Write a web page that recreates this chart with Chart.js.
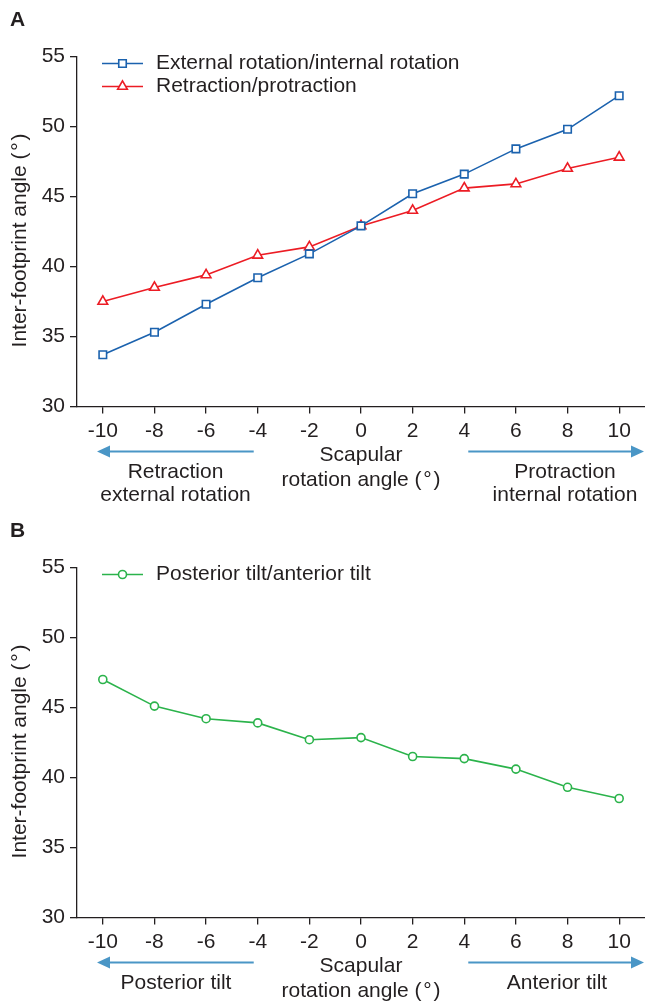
<!DOCTYPE html>
<html>
<head>
<meta charset="utf-8">
<script src="https://cdn.jsdelivr.net/npm/chart.js@4.4.1/dist/chart.umd.min.js"></script>
<style>
  html, body { margin: 0; padding: 0; background: #fff; }
  #wrap { position: relative; width: 645px; height: 1007px; }
  .panel { position: absolute; left: 0; width: 645px; }
  #panel-a { top: 0; height: 511px; }
  #panel-b { top: 511px; height: 496px; }
</style>
</head>
<body>
<div id="wrap">
  <div class="panel" id="panel-a"><canvas id="chart-a"></canvas></div>
  <div class="panel" id="panel-b"><canvas id="chart-b"></canvas></div>
</div>
<script>
// scapular rotation angle (deg)
const xLabels = ["-10", "-8", "-6", "-4", "-2", "0", "2", "4", "6", "8", "10"];
const yTickValues = [30, 35, 40, 45, 50, 55];

// inter-footprint angle (deg)
const extIntRotation = [33.7, 35.3, 37.3, 39.2, 40.9, 42.9, 45.2, 46.6, 48.4, 49.8, 52.2];
const retractProtract = [37.5, 38.5, 39.4, 40.8, 41.4, 42.9, 44.0, 45.6, 45.9, 47.0, 47.8];
const postAntTilt = [47.0, 45.1, 44.2, 43.9, 42.7, 42.85, 41.5, 41.35, 40.6, 39.3, 38.5];

const yTitle = "Inter-footprint angle (\u200A\u00B0\u200A)";
const xTitleLines = ["Scapular", "rotation angle (\u200A\u00B0\u200A)"];

const INK = "#231f20";
const ARROW = "#4a96c6";
const FONT = "'Liberation Sans', Arial, Helvetica, sans-serif";
const FS = 21;

function drawArrow(ctx, fromX, tipX, y) {
  const dir = tipX > fromX ? 1 : -1;
  ctx.save();
  ctx.strokeStyle = ARROW;
  ctx.fillStyle = ARROW;
  ctx.lineWidth = 1.8;
  ctx.beginPath();
  ctx.moveTo(fromX, y);
  ctx.lineTo(tipX - dir * 10, y);
  ctx.stroke();
  ctx.beginPath();
  ctx.moveTo(tipX, y);
  ctx.lineTo(tipX - dir * 13, y - 6);
  ctx.lineTo(tipX - dir * 13, y + 6);
  ctx.closePath();
  ctx.fill();
  ctx.restore();
}

// letter, legend and the annotations under the x axis
const extras = {
  id: "extras",
  afterDraw(chart, args, opts) {
    const { ctx, chartArea: area } = chart;
    const xs = chart.scales.x;
    ctx.save();
    ctx.fillStyle = INK;
    ctx.textBaseline = "middle";

    ctx.font = `bold 21px ${FONT}`;
    ctx.textAlign = "left";
    ctx.fillText(opts.letter, 10, 20);

    // y title
    ctx.save();
    ctx.translate(20, area.top + 184);
    ctx.rotate(-Math.PI / 2);
    ctx.textAlign = "center";
    ctx.font = `${FS}px ${FONT}`;
    ctx.fillText(yTitle, 0, 0);
    ctx.restore();

    // legend: line + marker + label
    ctx.font = `${FS}px ${FONT}`;
    ctx.textAlign = "left";
    chart.data.datasets.forEach((ds, i) => {
      const y = area.top + 7 + i * 23;
      ctx.save();
      ctx.strokeStyle = ds.borderColor;
      ctx.lineWidth = ds.borderWidth;
      ctx.beginPath();
      ctx.moveTo(102, y);
      ctx.lineTo(143, y);
      ctx.stroke();
      ctx.fillStyle = "#fff";
      Chart.helpers.drawPoint(ctx, {
        pointStyle: ds.pointStyle, radius: ds.pointRadius, borderWidth: ds.pointBorderWidth, rotation: 0
      }, 122.5, y);
      ctx.restore();
      ctx.fillText(ds.label, 156, y);
    });

    // under the axis
    const base = area.bottom;
    const xm4 = xs.getPixelForValue(3);
    const xp4 = xs.getPixelForValue(7);
    drawArrow(ctx, xm4 - 4, area.left + 20, base + 45);
    drawArrow(ctx, xp4 + 4, area.right - 1, base + 45);

    ctx.font = `${FS}px ${FONT}`;
    ctx.textAlign = "center";
    const x0 = xs.getPixelForValue(5);
    ctx.fillText(xTitleLines[0], x0, base + 48.5);
    ctx.fillText(xTitleLines[1], x0, base + 73.5);
    opts.left.forEach((t, i) => ctx.fillText(t, opts.leftX, base + 66 + i * 22.5));
    opts.right.forEach((t, i) => ctx.fillText(t, opts.rightX, base + 66 + i * 22.5));
    ctx.restore();
  }
};

function makeOptions(side) {
  const tickFont = { family: FONT, size: FS };
  return {
    responsive: true,
    maintainAspectRatio: false,
    animation: false,
    devicePixelRatio: 1,
    layout: { autoPadding: false, padding: { top: 56.5, left: 0, right: 0, bottom: 0 } },
    plugins: {
      legend: { display: false },
      tooltip: { enabled: false },
      extras: side
    },
    scales: {
      x: {
        type: "category",
        offset: true,
        grid: { drawOnChartArea: false, drawTicks: true, tickLength: 7, color: INK, lineWidth: 1.3 },
        border: { display: true, color: INK, width: 1.3 },
        ticks: { color: INK, font: tickFont, padding: 5, maxRotation: 0, autoSkip: false },
        afterFit: s => {
          s.height = s.chart.height - 406.5;
          s.paddingLeft = 0;
          s.paddingRight = 0;
        }
      },
      y: {
        min: 30,
        max: 55,
        afterBuildTicks: s => { s.ticks = yTickValues.map(v => ({ value: v })); },
        grid: { drawOnChartArea: false, drawTicks: true, tickLength: 7, color: INK, lineWidth: 1.3 },
        border: { display: true, color: INK, width: 1.3 },
        ticks: { color: INK, font: tickFont, padding: 5 },
        afterFit: s => { s.width = 77; }
      }
    }
  };
}

function series(label, data, color, style, radius) {
  return {
    label, data,
    borderColor: color,
    backgroundColor: "#fff",
    borderWidth: 1.6,
    pointStyle: style,
    pointRadius: radius,
    pointBorderWidth: 1.6,
    pointBackgroundColor: "#fff",
    pointBorderColor: color,
    tension: 0,
    fill: false,
    clip: false
  };
}

new Chart(document.getElementById("chart-a"), {
  type: "line",
  data: {
    labels: xLabels,
    datasets: [
      series("External rotation/internal rotation", extIntRotation, "#1b62ae", "rect", 5.3),
      series("Retraction/protraction", retractProtract, "#ec1c24", "triangle", 5.6)
    ]
  },
  options: makeOptions({
    letter: "A",
    left: ["Retraction", "external rotation"], leftX: 175.5,
    right: ["Protraction", "internal rotation"], rightX: 565
  }),
  plugins: [extras]
});

new Chart(document.getElementById("chart-b"), {
  type: "line",
  data: {
    labels: xLabels,
    datasets: [
      series("Posterior tilt/anterior tilt", postAntTilt, "#2bb34b", "circle", 4)
    ]
  },
  options: makeOptions({
    letter: "B",
    left: ["Posterior tilt"], leftX: 176,
    right: ["Anterior tilt"], rightX: 557
  }),
  plugins: [extras]
});
</script>
</body>
</html>
